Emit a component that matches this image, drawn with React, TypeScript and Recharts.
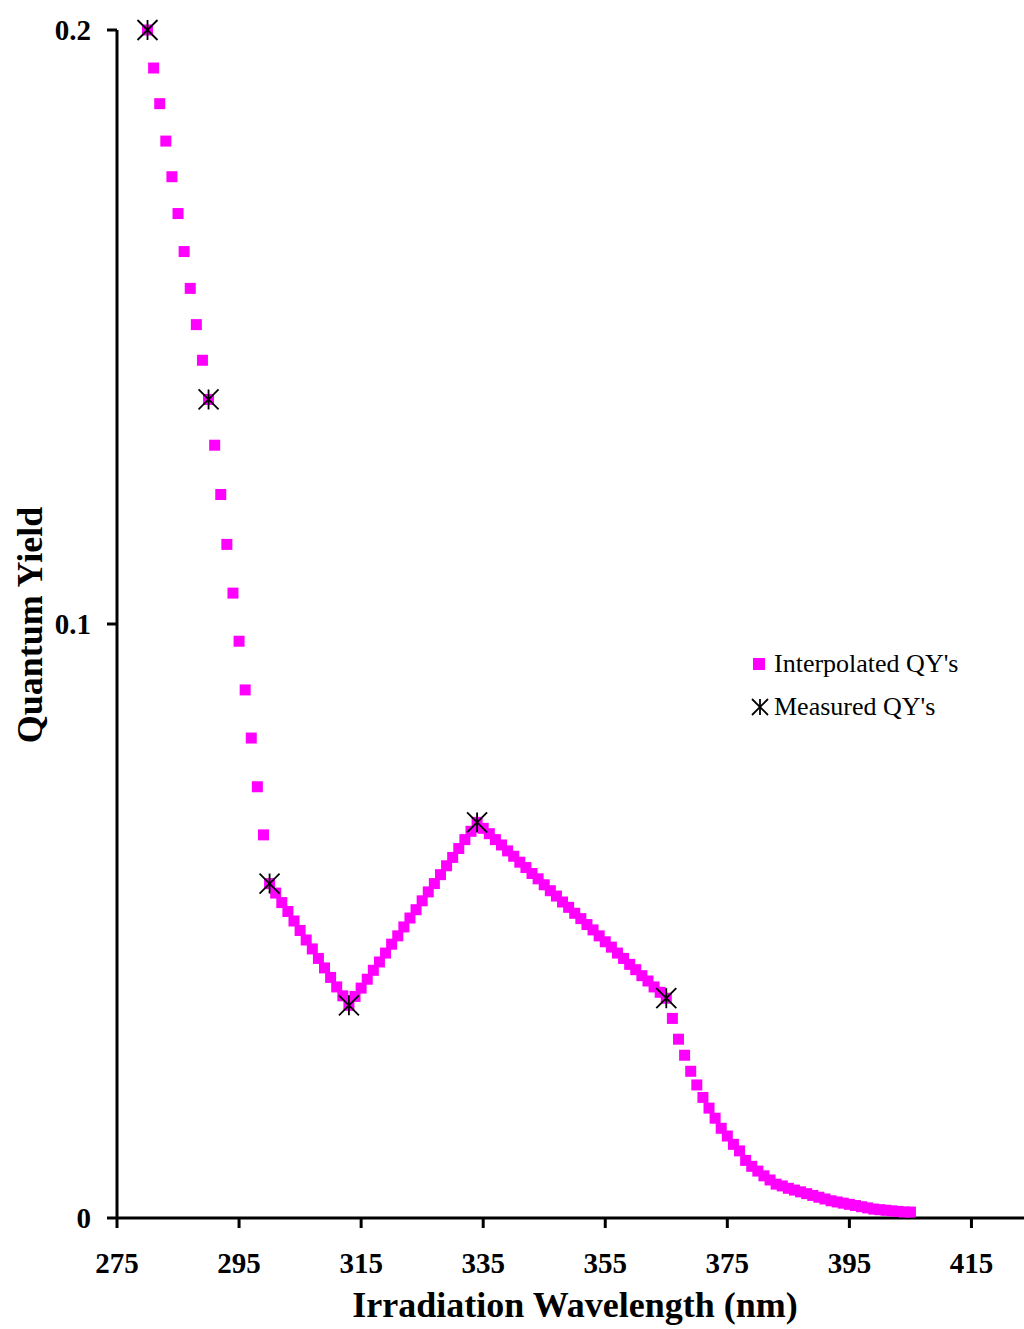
import React from 'react';
import { ScatterChart, Scatter, XAxis, YAxis } from 'recharts';

// wavelengths (nm) of the interpolated quantum yields
const interpWavelengths = [
  280, 281, 282, 283, 284, 285, 286, 287, 288, 289,
  290, 291, 292, 293, 294, 295, 296, 297, 298, 299,
  300, 301, 302, 303, 304, 305, 306, 307, 308, 309,
  310, 311, 312, 313, 314, 315, 316, 317, 318, 319,
  320, 321, 322, 323, 324, 325, 326, 327, 328, 329,
  330, 331, 332, 333, 334, 335, 336, 337, 338, 339,
  340, 341, 342, 343, 344, 345, 346, 347, 348, 349,
  350, 351, 352, 353, 354, 355, 356, 357, 358, 359,
  360, 361, 362, 363, 364, 365, 366, 367, 368, 369,
  370, 371, 372, 373, 374, 375, 376, 377, 378, 379,
  380, 381, 382, 383, 384, 385, 386, 387, 388, 389,
  390, 391, 392, 393, 394, 395, 396, 397, 398, 399,
  400, 401, 402, 403, 404, 405,
];

const interpYields = [
  0.2000, 0.1936, 0.1876, 0.1813, 0.1753, 0.1691, 0.1627, 0.1565, 0.1504, 0.1444,
  0.1378, 0.1301, 0.1218, 0.1134, 0.1052, 0.0971, 0.0889, 0.0808, 0.0726, 0.0645,
  0.0563, 0.0547, 0.0531, 0.0516, 0.0500, 0.0484, 0.0468, 0.0453, 0.0437, 0.0421,
  0.0405, 0.0389, 0.0374, 0.0358, 0.0373, 0.0387, 0.0402, 0.0417, 0.0431, 0.0446,
  0.0461, 0.0475, 0.0490, 0.0505, 0.0519, 0.0534, 0.0549, 0.0563, 0.0578, 0.0593,
  0.0607, 0.0622, 0.0637, 0.0651, 0.0666, 0.0656, 0.0647, 0.0637, 0.0628, 0.0618,
  0.0609, 0.0599, 0.0590, 0.0580, 0.0571, 0.0561, 0.0551, 0.0542, 0.0532, 0.0523,
  0.0513, 0.0504, 0.0494, 0.0485, 0.0475, 0.0465, 0.0456, 0.0446, 0.0437, 0.0427,
  0.0418, 0.0408, 0.0399, 0.0389, 0.0380, 0.0370, 0.0336, 0.0301, 0.0274, 0.0247,
  0.0224, 0.0203, 0.0185, 0.0168, 0.0151, 0.0138, 0.0124, 0.0113, 0.0097, 0.0087,
  0.0079, 0.0071, 0.0064, 0.0057, 0.0054, 0.0050, 0.0047, 0.0044, 0.0041, 0.0038,
  0.0035, 0.0032, 0.0029, 0.0027, 0.0025, 0.0023, 0.0021, 0.0019, 0.0017, 0.0015,
  0.0014, 0.0013, 0.0012, 0.0011, 0.0010, 0.0010,
];

const measuredWavelengths = [280, 290, 300, 313, 334, 365];
const measuredYields = [0.2, 0.1378, 0.0563, 0.0358, 0.0666, 0.037];

const xTicks = [275, 295, 315, 335, 355, 375, 395, 415];
const yTicks = [0, 0.1, 0.2];

const interpData = interpWavelengths.map((w, i) => ({ wl: w, qy: interpYields[i] }));
const measuredData = measuredWavelengths.map((w, i) => ({ wl: w, qy: measuredYields[i] }));

const MAGENTA = '#ff00ff';
const FONT = '"Liberation Serif", "Times New Roman", serif';

const SquareDot = (props: any) => {
  const { cx, cy } = props;
  if (cx == null || cy == null) return null;
  return <rect x={cx - 5.5} y={cy - 5.5} width={11} height={11} fill={MAGENTA} />;
};

const StarMark = ({ cx, cy, s = 10 }: { cx: number; cy: number; s?: number }) => (
  <g stroke="#000" strokeWidth={1.8} fill="none">
    <line x1={cx - s} y1={cy - s} x2={cx + s} y2={cy + s} />
    <line x1={cx - s} y1={cy + s} x2={cx + s} y2={cy - s} />
    <line x1={cx} y1={cy - s} x2={cx} y2={cy + s} />
  </g>
);

const StarDot = (props: any) => {
  const { cx, cy } = props;
  if (cx == null || cy == null) return null;
  return <StarMark cx={cx} cy={cy} />;
};

const LegendBox = () => (
  <div
    style={{
      position: 'absolute',
      left: 748,
      top: 642,
      fontFamily: FONT,
      fontSize: 26,
      color: '#000',
      lineHeight: '43px',
      whiteSpace: 'nowrap',
    }}
  >
    <div style={{ display: 'flex', alignItems: 'center' }}>
      <svg width={24} height={22} style={{ marginRight: 2 }}>
        <rect x={5} y={5} width={12} height={12} fill={MAGENTA} />
      </svg>
      <span>Interpolated QY's</span>
    </div>
    <div style={{ display: 'flex', alignItems: 'center' }}>
      <svg width={24} height={22} style={{ marginRight: 2 }}>
        <StarMark cx={12} cy={11} s={8} />
      </svg>
      <span>Measured QY's</span>
    </div>
  </div>
);

const tickStyle = { fontFamily: FONT, fontSize: 29, fontWeight: 700, fill: '#000' };

export default function App() {
  return (
    <div
      style={{
        position: 'absolute',
        left: 0,
        top: 0,
        width: 1024,
        height: 1329,
        overflow: 'hidden',
        background: '#fff',
      }}
    >
      {/* x range runs past the right edge so the axis line reaches it */}
      <ScatterChart
        width={1063}
        height={1329}
        margin={{ top: 30, right: 0, left: 0, bottom: 0 }}
        style={{ position: 'absolute', left: 0, top: 0 }}
      >
        <XAxis
          type="number"
          dataKey="wl"
          domain={[275, 430]}
          ticks={xTicks}
          height={111}
          axisLine={{ stroke: '#000', strokeWidth: 3 }}
          tickLine={{ stroke: '#000', strokeWidth: 3 }}
          tickSize={10}
          tickMargin={24}
          tick={tickStyle}
        />
        <YAxis
          type="number"
          dataKey="qy"
          domain={[0, 0.2]}
          ticks={yTicks}
          width={117}
          axisLine={{ stroke: '#000', strokeWidth: 3 }}
          tickLine={{ stroke: '#000', strokeWidth: 3 }}
          tickSize={10}
          tickMargin={16}
          tick={tickStyle}
        />
        <Scatter
          name="Interpolated QY's"
          data={interpData}
          fill={MAGENTA}
          shape={SquareDot}
          isAnimationActive={false}
        />
        <Scatter
          name="Measured QY's"
          data={measuredData}
          fill="#000"
          shape={StarDot}
          isAnimationActive={false}
        />
      </ScatterChart>
      <LegendBox />
      <div
        style={{
          position: 'absolute',
          left: 0,
          width: 1150,
          top: 1284,
          textAlign: 'center',
          fontFamily: FONT,
          fontWeight: 700,
          fontSize: 36,
          color: '#000',
          whiteSpace: 'nowrap',
        }}
      >
        Irradiation Wavelength (nm)
      </div>
      <div
        style={{
          position: 'absolute',
          left: 30,
          top: 625,
          transform: 'translate(-50%, -50%) rotate(-90deg)',
          fontFamily: FONT,
          fontWeight: 700,
          fontSize: 36,
          color: '#000',
          whiteSpace: 'nowrap',
        }}
      >
        Quantum Yield
      </div>
    </div>
  );
}
